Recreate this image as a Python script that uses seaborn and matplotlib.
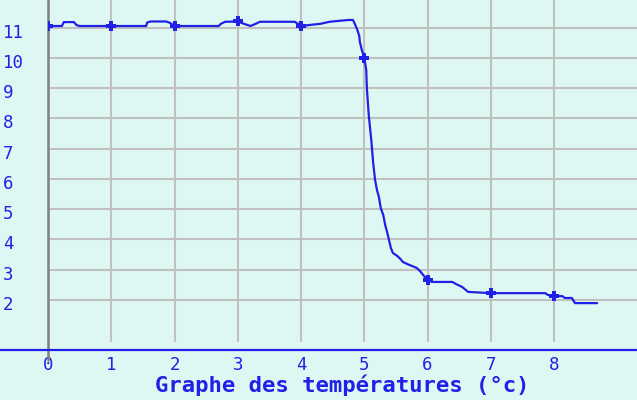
import matplotlib
matplotlib.use("Agg")
import matplotlib.pyplot as plt
import matplotlib.transforms as mtrans
import seaborn as sns
import pandas as pd
from matplotlib.lines import Line2D

# ---- data ----
curve_x = [0.0, 0.22, 0.25, 0.41, 0.45, 0.5, 1.0, 1.55, 1.57, 1.62, 1.87, 1.93, 2.0,
           2.7, 2.73, 2.8, 3.0, 3.1, 3.2, 3.28, 3.35, 3.9, 4.0, 4.2, 4.3, 4.45, 4.75,
           4.82, 4.85, 4.89, 4.92, 4.93, 4.96, 5.0, 5.03, 5.04, 5.07, 5.11, 5.14, 5.17,
           5.2, 5.23, 5.26, 5.3, 5.33, 5.36, 5.39, 5.42, 5.45, 5.52, 5.57, 5.61, 5.68,
           5.75, 5.83, 5.88, 5.93, 6.0, 6.07, 6.39, 6.45, 6.55, 6.64, 7.0, 7.86, 7.9,
           8.0, 8.13, 8.17, 8.28, 8.33, 8.68]
curve_y = [11.05, 11.05, 11.18, 11.18, 11.08, 11.05, 11.05, 11.05, 11.17, 11.2, 11.2, 11.15, 11.05,
           11.05, 11.12, 11.19, 11.2, 11.12, 11.05, 11.12, 11.19, 11.19, 11.05, 11.1, 11.12, 11.19, 11.25,
           11.25, 11.12, 10.92, 10.72, 10.52, 10.26, 10.0, 9.6, 9.0, 8.1, 7.28, 6.52, 5.96,
           5.63, 5.40, 5.03, 4.80, 4.47, 4.24, 3.98, 3.71, 3.55, 3.45, 3.35, 3.25, 3.18,
           3.12, 3.05, 2.95, 2.82, 2.65, 2.59, 2.59, 2.52, 2.42, 2.26, 2.22, 2.22, 2.16,
           2.12, 2.12, 2.06, 2.06, 1.89, 1.89]
marker_x = [0, 1, 2, 3, 4, 5, 6, 7, 8]
marker_y = [11.05, 11.05, 11.05, 11.2, 11.05, 10.0, 2.65, 2.22, 2.12]
x_ticks = [0, 1, 2, 3, 4, 5, 6, 7, 8]
x_labels = ["0", "1", "2", "3", "4", "5", "6", "7", "8"]
y_ticks = [2, 3, 4, 5, 6, 7, 8, 9, 10, 11]
y_labels = ["2", "3", "4", "5", "6", "7", "8", "9", "10", "11"]
title = "Graphe des températures (°c)"

# ---- style ----
BG = "#dff7f2"
BLUE = "#2020e6"
GRID = "#c0c0c0"
AXIS = "#808080"

sns.set_style("white")
plt.rcParams["font.family"] = ["DejaVu Sans Mono", "DejaVu Sans"]

fig = plt.figure(figsize=(6.37, 4.0), dpi=100, facecolor=BG)
ax = fig.add_axes([48 / 637, 50 / 400, 1 - 48 / 637, 350 / 400])
ax.set_facecolor(BG)

XMAX = 9.31
YMIN, YMAX = 0.34, 11.91
ax.set_xlim(0, XMAX)
ax.set_ylim(YMIN, YMAX)

for s in ax.spines.values():
    s.set_visible(False)

# grid
ax.set_yticks(y_ticks)
ax.set_yticklabels([])
ax.grid(axis="y", color=GRID, linewidth=1.5, zorder=0)
ax.grid(axis="x", visible=False)
vfrac = (0.65 - YMIN) / (YMAX - YMIN)
for xv in x_ticks[1:]:
    ax.axvline(xv, ymin=vfrac, ymax=1, color=GRID, linewidth=1.5, zorder=0)
# y axis line (gray), extends a bit below the bottom
ax.axvline(0, ymin=-0.029, ymax=1, color=AXIS, linewidth=1.8, zorder=1, clip_on=False)

ax.set_xticks(x_ticks)
ax.set_xticklabels(x_labels)
ax.tick_params(axis="x", length=0, pad=4.5, labelsize=12.5, labelcolor=BLUE)
ax.tick_params(axis="y", length=0)

# y labels, left aligned at the figure edge, slightly below their grid line
ylab_tr = mtrans.blended_transform_factory(fig.transFigure, ax.transData) + \
    mtrans.ScaledTranslation(0, -3 / 100, fig.dpi_scale_trans)
for v, lab in zip(y_ticks, y_labels):
    ax.text(3 / 637, v, lab, transform=ylab_tr, ha="left", va="center_baseline",
            color=BLUE, fontsize=12.5, clip_on=False)

df = pd.DataFrame({"x": curve_x, "y": curve_y})
sns.lineplot(data=df, x="x", y="y", ax=ax, color=BLUE, linewidth=1.6,
             sort=False, estimator=None, zorder=3)
dm = pd.DataFrame({"x": marker_x, "y": marker_y})
sns.scatterplot(data=dm, x="x", y="y", ax=ax, color=BLUE, marker="P", s=45,
                linewidth=0, zorder=4)
ax.set_xlabel("")
ax.set_ylabel("")

# bottom blue baseline across the whole figure
fig.add_artist(Line2D([0, 1], [50 / 400, 50 / 400], color=BLUE, linewidth=1.6,
                      transform=fig.transFigure))

fig.text(342.5 / 637, (400 - 385) / 400, title, ha="center", va="center",
         color=BLUE, fontsize=16, fontweight="bold",
         family=["DejaVu Sans Mono", "DejaVu Sans"])

fig.savefig("out.png", dpi=100, facecolor=BG)
